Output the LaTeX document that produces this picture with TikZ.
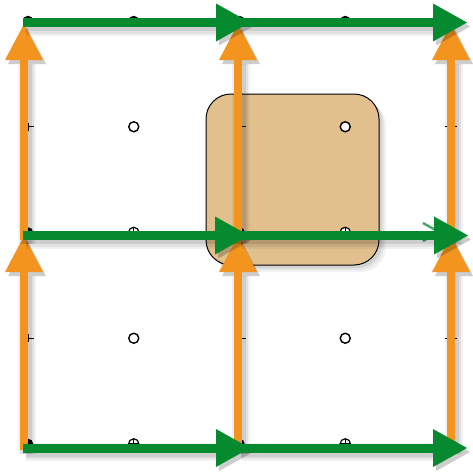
\documentclass[tikz,border=0pt]{standalone}
\usetikzlibrary{arrows.meta}
\definecolor{myorange}{RGB}{243,148,30}
\definecolor{mygreen}{RGB}{6,138,48}
\definecolor{mytan}{RGB}{226,192,142}
\tikzset{
  filleddot/.style={circle,fill=black,inner sep=0pt,minimum size=10.5pt},
  opendot/.style={circle,draw=black,fill=white,line width=1.4pt,inner sep=0pt,minimum size=10pt},
  oplusdot/.style={circle,draw=black,fill=white,line width=1.2pt,inner sep=0pt,minimum size=10.5pt,
    path picture={\draw[line width=1.2pt] (path picture bounding box.north)--(path picture bounding box.south)
      (path picture bounding box.west)--(path picture bounding box.east);}},
  plusline/.style={draw=black,line width=1.2pt},
  orangearrow/.style={draw=myorange,fill=myorange,line width=8pt,-{Triangle[length=36pt,width=38pt,line width=0pt]}},
  greenarrow/.style={draw=mygreen,fill=mygreen,line width=9pt,-{Triangle[length=34pt,width=38pt,line width=0pt]}},
  shadowlayer/.style={draw=black,fill=black,opacity=#1,transform canvas={shift={(3,4)}}},
  cellbox/.style={draw=black,line width=1pt,fill=mytan,rounded corners=25pt},
}
\newcommand\shadowarrow[3]{%
  \draw[#1,shadowlayer=0.05,line width=18pt] (#2) -- (#3);
  \draw[#1,shadowlayer=0.07,line width=14pt] (#2) -- (#3);
  \draw[#1,shadowlayer=0.09,line width=9pt] (#2) -- (#3);
  \draw[#1] (#2) -- (#3);}
\begin{document}
\begin{tikzpicture}[x=1pt,y=-1pt]
\useasboundingbox (0,0) rectangle (473,472);
% cell box
\coordinate (bnw) at (206,94);
\coordinate (bse) at (379,265);
\foreach \o/\s in {0.05/7,0.06/5,0.08/3}{
  \fill[black,opacity=\o,rounded corners=25pt] ([shift={(\s,\s)}]bnw) rectangle ([shift={(\s,\s)}]bse);}
\draw[cellbox] (bnw) rectangle (bse);
% markers
\def\Xa{28}\def\Xb{133.75}\def\Xc{239.5}\def\Xd{345.25}\def\Xe{451}
\def\Ya{21}\def\Yb{126.75}\def\Yc{232.5}\def\Yd{338.25}\def\Ye{444}
% row 0
\node[filleddot] (m00) at (\Xa,\Ya) {};
\node[filleddot] (m10) at (\Xb,\Ya) {};
\node[filleddot] (m20) at (\Xc,\Ya) {};
\node[filleddot] (m30) at (\Xd,\Ya) {};
\node[filleddot] (m40) at (\Xe,\Ya) {};
% row 1
\coordinate (m01) at (\Xa,\Yb);
\node[opendot] (m11) at (\Xb,\Yb) {};
\coordinate (m21) at (\Xc,\Yb);
\node[opendot] (m31) at (\Xd,\Yb) {};
\coordinate (m41) at (\Xe,\Yb);
% row 2
\node[filleddot] (m02) at (\Xa,\Yc) {};
\node[oplusdot] (m12) at (\Xb,\Yc) {};
\node[filleddot] (m22) at (\Xc,\Yc) {};
\node[oplusdot] (m32) at (\Xd,\Yc) {};
\node[filleddot] (m42) at (\Xe,\Yc) {};
% row 3
\coordinate (m03) at (\Xa,\Yd);
\node[opendot] (m13) at (\Xb,\Yd) {};
\coordinate (m23) at (\Xc,\Yd);
\node[opendot] (m33) at (\Xd,\Yd) {};
\coordinate (m43) at (\Xe,\Yd);
% row 4
\node[filleddot] (m04) at (\Xa,\Ye) {};
\node[oplusdot] (m14) at (\Xb,\Ye) {};
\node[filleddot] (m24) at (\Xc,\Ye) {};
\node[oplusdot] (m34) at (\Xd,\Ye) {};
\node[filleddot] (m44) at (\Xe,\Ye) {};
% plus marks on vertical edges
\foreach \p in {m01,m21,m41,m03,m23,m43}{
  \draw[plusline] (\p) ++(-6,0) -- ++(12,0) (\p) ++(0,-4) -- ++(0,8);}
% orange arrows (vertical)
\coordinate (oa0) at (24,450);   \coordinate (oa1) at (24,236);   \coordinate (oa2) at (24,24);
\coordinate (ob0) at (238,450);  \coordinate (ob1) at (238,236);  \coordinate (ob2) at (238,24);
\coordinate (oc0) at (451,450);  \coordinate (oc1) at (451,236);  \coordinate (oc2) at (451,24);
\coordinate (oa1s) at (24,240);  \coordinate (ob1s) at (238,240); \coordinate (oc1s) at (451,240);
\shadowarrow{orangearrow}{oa0}{oa1}
\shadowarrow{orangearrow}{oa1s}{oa2}
\shadowarrow{orangearrow}{ob0}{ob1}
\shadowarrow{orangearrow}{ob1s}{ob2}
\shadowarrow{orangearrow}{oc0}{oc1}
\shadowarrow{orangearrow}{oc1s}{oc2}
% faint ghost arrow head
\coordinate (gh1) at (423,223);
\coordinate (gh2) at (439,232);
\coordinate (gh3) at (423,241);
\draw[mygreen,opacity=0.75,line width=2.4pt] (gh1) -- (gh2) -- (gh3);
% green arrows (horizontal)
\coordinate (ga0) at (23,22.5);  \coordinate (ga1) at (250,22.5); \coordinate (ga1s) at (238,22.5); \coordinate (ga2) at (467,22.5);
\coordinate (gb0) at (23,235.5); \coordinate (gb1) at (249,235.5); \coordinate (gb1s) at (238,235.5); \coordinate (gb2) at (468,235.5);
\coordinate (gc0) at (23,448);   \coordinate (gc1) at (250,448);  \coordinate (gc1s) at (238,448); \coordinate (gc2) at (467,448);
\shadowarrow{greenarrow}{ga0}{ga1}
\shadowarrow{greenarrow}{ga1s}{ga2}
\shadowarrow{greenarrow}{gb0}{gb1}
\shadowarrow{greenarrow}{gb1s}{gb2}
\shadowarrow{greenarrow}{gc0}{gc1}
\shadowarrow{greenarrow}{gc1s}{gc2}
\end{tikzpicture}
\end{document}
